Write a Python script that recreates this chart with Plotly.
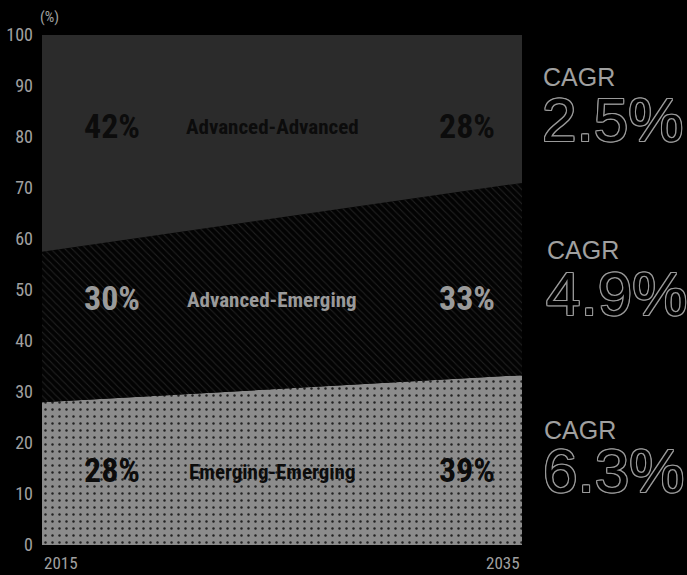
import plotly.graph_objects as go

years = [2015, 2035]
emerging_emerging = [28, 33.3]
advanced_emerging = [29.5, 37.7]
advanced_advanced = [42.5, 29.0]
segment_names = ["Emerging-Emerging", "Advanced-Emerging", "Advanced-Advanced"]
share_2015 = ["28%", "30%", "42%"]
share_2035 = ["39%", "33%", "28%"]
cagr_values = ["6.3%", "4.9%", "2.5%"]
y_ticks = [0, 10, 20, 30, 40, 50, 60, 70, 80, 90, 100]

NARROW = "Liberation Sans Narrow, Arial Narrow, Roboto Condensed, sans-serif"
REG = "Liberation Sans, Arial, Helvetica, sans-serif"

lower = emerging_emerging
middle = [a + b for a, b in zip(emerging_emerging, advanced_emerging)]
top = [a + b for a, b in zip(middle, advanced_advanced)]

fig = go.Figure()
fig.add_trace(go.Scatter(
    x=years, y=lower, mode="lines", line=dict(width=0, color="#8c8c8c"),
    fill="tozeroy", fillcolor="#8c8c8c",
    fillpattern=dict(shape=".", fgcolor="#222222", bgcolor="#8c8c8c", size=7, solidity=0.1, fillmode="replace"),
    hoverinfo="skip", showlegend=False))
fig.add_trace(go.Scatter(
    x=years, y=middle, mode="lines", line=dict(width=0, color="#000"),
    fill="tonexty", fillcolor="#000",
    fillpattern=dict(shape="\\", fgcolor="#222222", bgcolor="#030303", size=5, solidity=0.2, fillmode="replace"),
    hoverinfo="skip", showlegend=False))
fig.add_trace(go.Scatter(
    x=years, y=top, mode="lines", line=dict(width=0, color="#2b2b2b"),
    fill="tonexty", fillcolor="#2b2b2b",
    hoverinfo="skip", showlegend=False))

row_y = [14.7, 48.4, 82.2]
pct_colors = ["#0c0c0c", "#9a9a9a", "#0c0c0c"]
ann = []
for i in range(3):
    ann.append(dict(x=2017.9, y=row_y[i], text=share_2015[i], showarrow=False,
                    font=dict(family=NARROW, size=34, color=pct_colors[i], weight="bold")))
    ann.append(dict(x=2024.6, y=row_y[i] - 0.3, text=segment_names[i], showarrow=False,
                    font=dict(family=NARROW, size=21, color=pct_colors[i], weight="bold")))
    ann.append(dict(x=2032.7, y=row_y[i], text=share_2035[i], showarrow=False,
                    font=dict(family=NARROW, size=34, color=pct_colors[i], weight="bold")))

cagr_px = [(542, 430, 470), (545, 250, 293), (541, 77, 120)]
oc = "#9a9a9a"
outline = ", ".join(f"{dx}px {dy}px 0 {oc}" for dx, dy in [(1, 0), (-1, 0), (0, 1), (0, -1), (1, 1), (-1, -1), (1, -1), (-1, 1)])
L, R, T, B = 42, 165, 35, 30
W, H = 687, 575
pw, ph = W - L - R, H - T - B
def px(x):
    return (x - L) / pw
def py(y):
    return 1 - (y - T) / ph
for i in range(3):
    x0, yc, yv = cagr_px[i]
    ann.append(dict(xref="paper", yref="paper", x=px(x0), y=py(yc), xanchor="left", yanchor="middle",
                    text="CAGR", showarrow=False, font=dict(family=REG, size=25, color="#a0a0a0")))
    ann.append(dict(xref="paper", yref="paper", x=px(x0 - 1), y=py(yv), xanchor="left", yanchor="middle",
                    text=cagr_values[i], showarrow=False,
                    font=dict(family=REG, size=62, color="#000000", shadow=outline)))

ann.append(dict(x=years[0], xref="x", yref="paper", y=py(563), xanchor="left", yanchor="middle",
                text=str(years[0]), showarrow=False, font=dict(family=NARROW, size=17, color="#a0a0a0")))
ann.append(dict(x=years[1], xref="x", yref="paper", y=py(563), xanchor="right", yanchor="middle",
                text=str(years[1]), showarrow=False, font=dict(family=NARROW, size=17, color="#a0a0a0")))
ann.append(dict(xref="paper", yref="paper", x=px(38), y=py(17), xanchor="left", yanchor="middle",
                text="(%)", showarrow=False, font=dict(family=NARROW, size=15, color="#a0a0a0")))

fig.update_layout(
    width=W, height=H,
    margin=dict(l=L, r=R, t=T, b=B, autoexpand=False),
    paper_bgcolor="#000000", plot_bgcolor="#000000",
    annotations=ann,
    xaxis=dict(range=[2015, 2035], showgrid=False, zeroline=False, showticklabels=False, ticks="",
               fixedrange=True, automargin=False),
    yaxis=dict(range=[0, 100], tickvals=y_ticks, showgrid=False, zeroline=False, ticks="",
               automargin=False, fixedrange=True,
               tickfont=dict(family=NARROW, size=18, color="#a0a0a0"), ticklabelstandoff=8),
)
fig.write_html("out.html", config={"displayModeBar": False, "staticPlot": True},
               post_script="document.body.style.margin='0';document.body.style.background='#000';")
